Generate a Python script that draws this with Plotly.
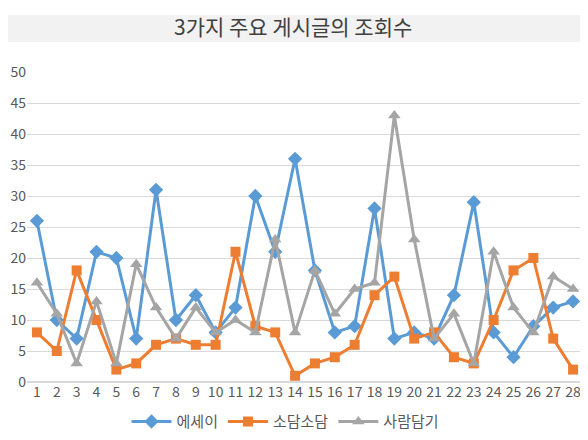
import plotly.graph_objects as go

categories = [str(i) for i in range(1, 29)]
essay = [26, 10, 7, 21, 20, 7, 31, 10, 14, 8, 12, 30, 21, 36, 18, 8, 9, 28, 7, 8, 7, 14, 29, 8, 4, 9, 12, 13]
sodam = [8, 5, 18, 10, 2, 3, 6, 7, 6, 6, 21, 9, 8, 1, 3, 4, 6, 14, 17, 7, 8, 4, 3, 10, 18, 20, 7, 2]
saram = [16, 11, 3, 13, 3, 19, 12, 7, 12, 8, 10, 8, 23, 8, 18, 11, 15, 16, 43, 23, 7, 11, 3, 21, 12, 8, 17, 15]
series_names = ["에세이", "소담소담", "사람담기"]

FONT = "Noto Sans CJK KR, Noto Sans, sans-serif"

fig = go.Figure()
fig.add_trace(go.Scatter(x=categories, y=essay, name=series_names[0], mode="lines+markers",
                         line=dict(color="#5B9BD5", width=3),
                         marker=dict(symbol="diamond", size=11, color="#5B9BD5")))
fig.add_trace(go.Scatter(x=categories, y=sodam, name=series_names[1], mode="lines+markers",
                         line=dict(color="#ED7D31", width=3),
                         marker=dict(symbol="square", size=10, color="#ED7D31")))
fig.add_trace(go.Scatter(x=categories, y=saram, name=series_names[2], mode="lines+markers",
                         line=dict(color="#A5A5A5", width=3),
                         marker=dict(symbol="triangle-up", size=11, color="#A5A5A5")))

fig.add_shape(type="rect", xref="paper", yref="paper", x0=-0.1, x1=1.1, y0=1.097, y1=1.184,
              fillcolor="#F2F2F2", line=dict(width=0), layer="below")

fig.update_layout(
    width=588, height=440,
    margin=dict(l=19, r=13, t=64, b=66, autoexpand=False),
    paper_bgcolor="white", plot_bgcolor="white",
    font=dict(family=FONT, color="#595959", size=14),
    title=dict(text="3가지 주요 게시글의 조회수", x=0.485, xref="container", xanchor="center",
               y=0.9545, yref="container", yanchor="middle",
               font=dict(size=21, color="#404040", family=FONT)),
    showlegend=True,
    legend=dict(orientation="h", x=0.465, xanchor="center", y=-0.075, yanchor="top",
                font=dict(size=15, color="#595959"), traceorder="normal", itemwidth=40),
    xaxis=dict(type="category", range=[-0.5, 27.5], showgrid=False, showline=False, ticks="", ticklen=0,
               automargin=False, tickfont=dict(size=14, color="#595959")),
    yaxis=dict(range=[0, 50], dtick=5, showgrid=True, gridcolor="#D9D9D9", gridwidth=1,
               zeroline=True, zerolinecolor="#D9D9D9", showline=False, ticks="",
               automargin=False, tickfont=dict(size=14, color="#595959")),
)

fig.write_html("out.html")
